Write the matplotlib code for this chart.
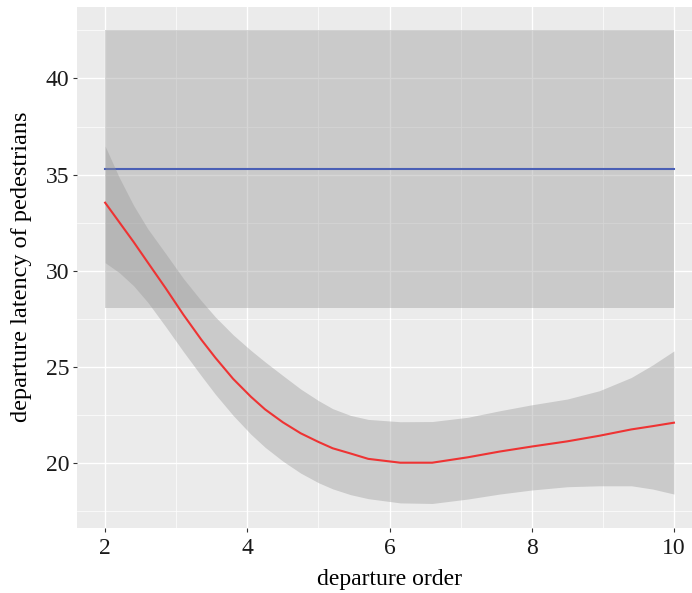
import matplotlib
matplotlib.use("Agg")
import matplotlib.pyplot as plt
from matplotlib.ticker import MultipleLocator

# ---- data ----
order = [2, 2.2, 2.4, 2.6, 2.85, 3.1, 3.35, 3.55, 3.8, 4.05, 4.25, 4.5, 4.75,
         5.0, 5.2, 5.45, 5.7, 6.15, 6.6, 7.1, 7.55, 8.0, 8.5, 8.95, 9.4, 9.7, 10]
loess_fit = [33.54, 32.52, 31.5, 30.43, 29.1, 27.72, 26.43, 25.48, 24.38, 23.45,
             22.79, 22.12, 21.55, 21.1, 20.77, 20.5, 20.22, 20.02, 20.02, 20.3,
             20.6, 20.86, 21.13, 21.42, 21.75, 21.92, 22.1]
loess_upper = [36.48, 34.84, 33.4, 32.18, 30.9, 29.6, 28.45, 27.6, 26.67, 25.86,
               25.26, 24.55, 23.85, 23.25, 22.83, 22.48, 22.27, 22.15, 22.16, 22.38,
               22.72, 23.03, 23.33, 23.76, 24.45, 25.1, 25.83]
loess_lower = [30.42, 29.9, 29.22, 28.36, 27.1, 25.8, 24.55, 23.58, 22.48, 21.5,
               20.82, 20.1, 19.48, 18.98, 18.66, 18.36, 18.15, 17.93, 17.9, 18.13,
               18.39, 18.6, 18.77, 18.82, 18.82, 18.65, 18.39]

flat_x = [2, 10]
flat_fit = [35.3, 35.3]
flat_upper = [42.5, 42.5]
flat_lower = [28.05, 28.05]

x_ticks = [2, 4, 6, 8, 10]
y_ticks = [20, 25, 30, 35, 40]

# ---- figure ----
W, H = 692, 593
fig = plt.figure(figsize=(W / 100, H / 100), dpi=100)
px_left, px_top, px_bottom = 76.7, 6.7, 527.7
xlim = (1.6, 10.4)
ylim = (16.64, 43.73)
px_per_x = 71.1
ax_w = (xlim[1] - xlim[0]) * px_per_x
ax_h = px_bottom - px_top
ax = fig.add_axes([px_left / W, (H - px_bottom) / H, ax_w / W, ax_h / H])

ax.set_facecolor("#EBEBEB")
for s in ax.spines.values():
    s.set_visible(False)

ax.set_xlim(*xlim)
ax.set_ylim(*ylim)
ax.xaxis.set_minor_locator(MultipleLocator(1))
ax.yaxis.set_minor_locator(MultipleLocator(2.5))
ax.set_xticks(x_ticks)
ax.set_yticks(y_ticks)
ax.grid(which="major", color="white", linewidth=1.0, zorder=0)
ax.grid(which="minor", color="white", linewidth=0.5, zorder=0)
ax.set_axisbelow(True)
ax.tick_params(which="minor", length=0)
ax.tick_params(which="major", length=3, width=0.8, color="#333333",
               labelsize=17, labelcolor="#1a1a1a")
ax.tick_params(axis="x", pad=4.5)
ax.tick_params(axis="y", pad=2.2)
for lab in ax.get_xticklabels() + ax.get_yticklabels():
    lab.set_family("Liberation Serif")

# flat fit band + line
ax.fill_between(flat_x, flat_lower, flat_upper, color="#999999", alpha=0.4,
                linewidth=0, zorder=2)
ax.plot(flat_x, flat_fit, color="#4A5FB5", linewidth=1.5, zorder=3)

# loess band + line
ax.fill_between(order, loess_lower, loess_upper, color="#999999", alpha=0.4,
                linewidth=0, zorder=4)
ax.plot(order, loess_fit, color="#EE3333", linewidth=1.5, zorder=5,
        solid_joinstyle="round")

ax.set_xlabel("departure order", family="Liberation Serif", fontsize=17,
              color="#000000")
ax.set_ylabel("departure latency of pedestrians", family="Liberation Serif",
              fontsize=17.5, color="#000000")
ax.xaxis.set_label_coords(0.5, -(580 - px_bottom) / ax_h, transform=ax.transAxes)
ax.yaxis.set_label_coords(-(px_left - 22) / ax_w, 0.5, transform=ax.transAxes)
ax.xaxis.label.set_va("center")
ax.yaxis.label.set_va("center")

fig.savefig("out.png", dpi=100)
